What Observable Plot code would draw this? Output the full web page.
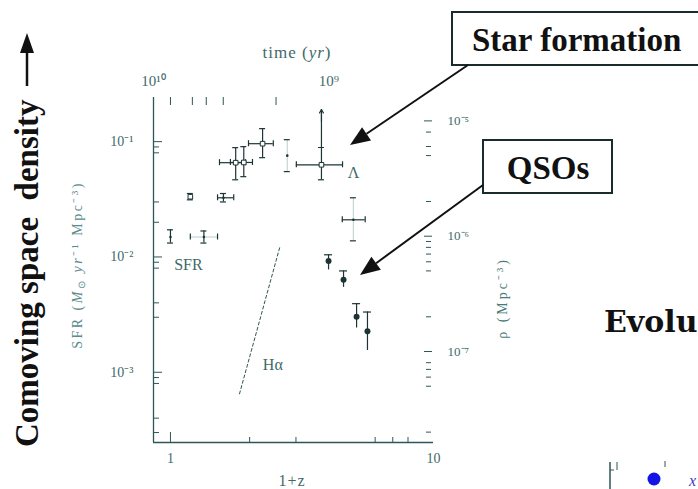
<!DOCTYPE html>
<html><head><meta charset="utf-8">
<script src="https://cdn.jsdelivr.net/npm/d3@7"></script>
<script src="https://cdn.jsdelivr.net/npm/@observablehq/plot@0.6"></script>
<style>body{margin:0;background:#fff}svg{display:block}</style>
</head><body><div id="chart"></div>
<script>
// ---- star-formation-rate points (x = 1+z, y = SFR in Msun/yr/Mpc^3)
const sfrZ      = [1.00, 1.19, 1.34, 1.59, 1.77, 1.90, 2.24, 3.75, 2.78, 4.96];
const sfrRate   = [0.0149, 0.0333, 0.0149, 0.0326, 0.0657, 0.066, 0.096, 0.063, 0.0756, 0.021];
const sfrLow    = [0.0132, 0.0313, 0.0132, 0.0300, 0.0467, 0.0497, 0.0726, 0.0467, 0.055, 0.0138];
const sfrHigh   = [0.0172, 0.0355, 0.0168, 0.0355, 0.0887, 0.0905, 0.1297, 0.19, 0.104, 0.0326];
const sfrZLow   = [null, null, 1.19, 1.51, 1.536, 1.69, 1.98, 3.01, null, 4.50];
const sfrZHigh  = [null, null, 1.51, 1.74, 1.93, 2.05, 2.46, 4.51, null, 5.50];
const sfrSquare = [false, true, false, false, true, true, true, true, false, false];
const sfrLimit  = [false, false, false, false, false, false, false, true, false, false];
const sfrVFaded = [false, false, false, false, false, false, false, false, true, true];
const sfrHFaded = [false, false, true, false, false, false, false, false, false, false];

// ---- QSO comoving space density (Mpc^-3, right axis)
const qsoZ       = [3.99, 4.55, 5.10, 5.61];
const qsoDensity = [6.1e-7, 4.2e-7, 2.0e-7, 1.5e-7];
const qsoLow     = [5.1e-7, 3.6e-7, 1.6e-7, 1.02e-7];
const qsoHigh    = [6.9e-7, 5.0e-7, 2.6e-7, 2.2e-7];

// ---- H-alpha dashed line
const haZ    = [1.83, 2.60];
const haRate = [0.00065, 0.012];

// ---- in-plot labels
const noteText = ["SFR", "Hα", "Λ"];
const noteZ    = [1.17, 2.45, 4.97];
const noteRate = [0.0086, 0.00116, 0.0538];

// ---- axes
const leftMajor   = [0.1, 0.01, 0.001];
const leftLabels  = ["10⁻¹", "10⁻²", "10⁻³"];
const leftMinor   = [0.09, 0.08, 0.03, 0.02, 0.009, 0.008, 0.004, 0.003, 0.0009, 0.0008, 0.0004, 0.0003];
const bottomMajor = [1, 10];
const bottomLabels = ["1", "10"];
const bottomMinor = [2, 3, 6, 7, 8];
const timeTicks   = [8e9, 6e9, 5e9, 4e9, 2e9];           // yr
const timeMajor   = [1e10, 1e9];
const timeLabels  = ["10¹⁰", "10⁹"];
const rightMajor  = [1e-5, 1e-6, 1e-7];                 // Mpc^-3
const rightLabels = ["10⁻⁵", "10⁻⁶", "10⁻⁷"];
const rightMinor  = [8e-6, 6e-6, 5e-6, 2e-6, 9e-7, 8e-7, 7e-7, 6e-7, 5e-7, 2e-7, 8e-8, 7e-8, 6e-8, 5e-8, 2e-8];

// scale helpers
const xMin = 0.862, xMax = 10, yMin = 0.000246, yMax = 0.2415;
const RIGHT = Math.pow(10, 4.18);                 // right-axis density -> left-axis units
const toZ = t => 4 * Math.pow(t / 1e9, -2 / 3);   // age (EdS) -> 1+z
const fx = p => Math.pow(10, p / 263);            // pixel offset factor along log x
const fy = p => Math.pow(10, p / 115.3);          // pixel offset factor along log y

const AX = "#2f5656", DAT = "#1d3434", LAB = "#3f6a6a", FADE = "#c4d6d6";
const sIdx = d3.range(sfrZ.length), qIdx = d3.range(qsoZ.length);

const chart = Plot.plot({
  width: 698, height: 489,
  marginLeft: 153, marginRight: 265, marginTop: 97, marginBottom: 47,
  x: {type: "log", domain: [xMin, xMax], axis: null},
  y: {type: "log", domain: [yMin, yMax], axis: null},
  style: {fontFamily: "Liberation Serif", fontSize: "13px", background: "white", overflow: "visible"},
  marks: [
    // axis lines
    Plot.ruleX([xMin], {stroke: AX, strokeWidth: 1.3}),
    Plot.ruleY([yMin], {stroke: AX, strokeWidth: 1.3}),
    // left ticks + labels
    Plot.ruleY(leftMajor, {y: d => d, x1: xMin, x2: xMin * fx(9), stroke: AX}),
    Plot.ruleY(leftMinor, {y: d => d, x1: xMin, x2: xMin * fx(6), stroke: AX}),
    Plot.text(leftMajor, {x: xMin, y: d => d, text: (d, i) => leftLabels[i], dx: -20, textAnchor: "end", fill: LAB, fontSize: 14}),
    // bottom ticks + labels
    Plot.ruleX(bottomMajor.slice(0, 1), {x: d => d, y1: yMin, y2: yMin * fy(10), stroke: AX}),
    Plot.ruleX(bottomMinor, {x: d => d, y1: yMin, y2: yMin * fy(5), stroke: AX}),
    Plot.text(bottomMajor, {x: d => d, y: yMin, text: (d, i) => bottomLabels[i], dy: 16, fill: LAB, fontSize: 14}),
    // top time ticks + labels
    Plot.ruleX(timeTicks, {x: toZ, y1: yMax, y2: yMax / fy(8), stroke: AX}),
    Plot.text(timeMajor, {x: toZ, y: yMax, text: (d, i) => timeLabels[i], dy: -16, fill: LAB, fontSize: 15}),
    // right axis ticks + labels
    Plot.ruleY(rightMajor, {y: d => d * RIGHT, x1: xMax / fx(9), x2: xMax / fx(1), stroke: AX}),
    Plot.ruleY(rightMinor, {y: d => d * RIGHT, x1: xMax / fx(7), x2: xMax / fx(2), stroke: AX}),
    Plot.text(rightMajor, {x: xMax, y: d => d * RIGHT, text: (d, i) => rightLabels[i], dx: 14, textAnchor: "start", fill: LAB, fontSize: 13}),

    // H-alpha dashed line
    Plot.line(d3.range(haZ.length), {x: i => haZ[i], y: i => haRate[i], stroke: AX, strokeDasharray: "3,2.5", strokeWidth: 1}),

    // SFR error bars
    Plot.ruleX(sIdx, {x: i => sfrZ[i], y1: i => sfrLow[i], y2: i => sfrHigh[i], stroke: i => sfrVFaded[i] ? FADE : DAT, strokeWidth: 1.2}),
    Plot.ruleY(sIdx.filter(i => sfrZLow[i] != null), {y: i => sfrRate[i], x1: i => sfrZLow[i], x2: i => sfrZHigh[i], stroke: i => sfrHFaded[i] ? FADE : DAT, strokeWidth: 1.2}),
    Plot.ruleY(sIdx, {y: i => sfrLow[i], x1: i => sfrZ[i] / fx(3), x2: i => sfrZ[i] * fx(3), stroke: DAT, strokeWidth: 1.2}),
    Plot.ruleY(sIdx.filter(i => !sfrLimit[i]), {y: i => sfrHigh[i], x1: i => sfrZ[i] / fx(3), x2: i => sfrZ[i] * fx(3), stroke: DAT, strokeWidth: 1.2}),
    Plot.ruleX(sIdx.filter(i => sfrZLow[i] != null), {x: i => sfrZLow[i], y1: i => sfrRate[i] / fy(3), y2: i => sfrRate[i] * fy(3), stroke: DAT, strokeWidth: 1.2}),
    Plot.ruleX(sIdx.filter(i => sfrZLow[i] != null), {x: i => sfrZHigh[i], y1: i => sfrRate[i] / fy(3), y2: i => sfrRate[i] * fy(3), stroke: DAT, strokeWidth: 1.2}),
    Plot.arrow(sIdx.filter(i => sfrLimit[i]), {x1: i => sfrZ[i], y1: i => sfrHigh[i] / fy(12), x2: i => sfrZ[i], y2: i => sfrHigh[i], stroke: DAT, headLength: 6, strokeWidth: 1.2}),
    Plot.ruleY(sIdx.filter(i => sfrLimit[i]), {y: i => sfrHigh[i] / fy(38), x1: i => sfrZ[i] / fx(3), x2: i => sfrZ[i] * fx(3), stroke: DAT}),
    Plot.dot(sIdx.filter(i => sfrSquare[i]), {x: i => sfrZ[i], y: i => sfrRate[i], symbol: "square", r: 2.6, fill: "white", stroke: DAT, strokeWidth: 1}),
    Plot.dot(sIdx.filter(i => !sfrSquare[i]), {x: i => sfrZ[i], y: i => sfrRate[i], r: 1.3, fill: DAT}),

    // QSO points
    Plot.ruleX(qIdx, {x: i => qsoZ[i], y1: i => qsoLow[i] * RIGHT, y2: i => qsoHigh[i] * RIGHT, stroke: DAT, strokeWidth: 1.2}),
    Plot.ruleY(qIdx, {y: i => qsoHigh[i] * RIGHT, x1: i => qsoZ[i] / fx(4), x2: i => qsoZ[i] * fx(4), stroke: DAT, strokeWidth: 1.2}),
    Plot.dot(qIdx, {x: i => qsoZ[i], y: i => qsoDensity[i] * RIGHT, r: 3, fill: DAT}),

    // in-plot labels
    Plot.text(d3.range(noteText.length), {x: i => noteZ[i], y: i => noteRate[i], text: i => noteText[i], fill: LAB, fontSize: 16})
  ]
});
document.getElementById("chart").append(chart);

// ---- slide annotations (overlay)
const svg = d3.select(chart);
const g = svg.append("g").attr("text-anchor", "start");
const serif = "Liberation Serif";

function arrow(x1, y1, x2, y2, len, half, w) {
  const dx = x2 - x1, dy = y2 - y1, L = Math.hypot(dx, dy), ux = dx / L, uy = dy / L;
  const bx = x2 - ux * len, by = y2 - uy * len;
  g.append("line").attr("x1", x1).attr("y1", y1).attr("x2", bx).attr("y2", by)
    .attr("stroke", "#111").attr("stroke-width", w);
  g.append("polygon").attr("fill", "#111")
    .attr("points", `${x2},${y2} ${bx - uy * half},${by + ux * half} ${bx + uy * half},${by - ux * half}`);
}

// big rotated left label with arrow
g.append("text").attr("transform", "translate(38,447) rotate(-90)").attr("text-anchor", "start")
  .attr("font-family", serif).attr("font-weight", "bold").attr("font-size", 33).attr("fill", "#111")
  .text("Comoving space  density");
arrow(27, 86, 27, 33, 20, 7, 2.5);

// axis titles
const sfrT = g.append("text").attr("transform", "translate(82,265) rotate(-90)")
  .attr("text-anchor", "middle").attr("font-family", serif).attr("font-size", 14)
  .attr("letter-spacing", 2.5).attr("fill", "#5a8c8c");
sfrT.append("tspan").text("SFR (");
sfrT.append("tspan").attr("font-style", "italic").text("M");
sfrT.append("tspan").attr("font-size", 10).attr("dy", 3).text("⊙");
sfrT.append("tspan").attr("dy", -3).attr("font-style", "italic").text(" yr");
sfrT.append("tspan").text("⁻¹ Mpc⁻³)");

g.append("text").attr("transform", "translate(507,298) rotate(-90)")
  .attr("text-anchor", "middle").attr("font-family", serif).attr("font-size", 14)
  .attr("letter-spacing", 3).attr("fill", "#4a7a7a")
  .text("ρ (Mpc⁻³)");

const tT = g.append("text").attr("x", 297).attr("y", 58).attr("text-anchor", "middle")
  .attr("font-family", serif).attr("font-size", 17).attr("letter-spacing", 1).attr("fill", LAB);
tT.append("tspan").text("time (");
tT.append("tspan").attr("font-style", "italic").text("yr");
tT.append("tspan").text(")");

g.append("text").attr("x", 292).attr("y", 486).attr("text-anchor", "middle")
  .attr("font-family", serif).attr("font-size", 16).attr("letter-spacing", 1).attr("fill", LAB).text("1+z");

// boxes
g.append("rect").attr("x", 452).attr("y", 12).attr("width", 270).attr("height", 53)
  .attr("fill", "white").attr("stroke", "#1a2b2b").attr("stroke-width", 2);
g.append("text").attr("x", 472).attr("y", 51).attr("text-anchor", "start").attr("font-family", serif).attr("font-weight", "bold")
  .attr("font-size", 33).attr("fill", "#111").text("Star formation");
arrow(468, 65, 350, 145, 20, 8, 2);

g.append("rect").attr("x", 483).attr("y", 140).attr("width", 129).attr("height", 53)
  .attr("fill", "white").attr("stroke", "#1a2b2b").attr("stroke-width", 2);
g.append("text").attr("x", 548).attr("y", 179).attr("text-anchor", "middle").attr("font-family", serif)
  .attr("font-weight", "bold").attr("font-size", 33).attr("fill", "#111").text("QSOs");
arrow(483, 185, 360, 275, 20, 8, 2);

// slide text cut by the picture edge (only the visible part)
g.append("text").attr("x", 604).attr("y", 332).attr("text-anchor", "start").attr("font-family", "DejaVu Serif").attr("font-weight", "bold")
  .attr("font-size", 30).attr("fill", "#111").text("Evolu");

// cut-off legend fragment
g.append("line").attr("x1", 610).attr("y1", 462).attr("x2", 610).attr("y2", 489).attr("stroke", AX).attr("stroke-width", 1.5);
g.append("line").attr("x1", 610).attr("y1", 470).attr("x2", 614).attr("y2", 470).attr("stroke", AX);
g.append("line").attr("x1", 617).attr("y1", 462).attr("x2", 617).attr("y2", 470).attr("stroke", AX);
g.append("line").attr("x1", 665).attr("y1", 461).attr("x2", 665).attr("y2", 467).attr("stroke", AX);
g.append("circle").attr("cx", 654).attr("cy", 479).attr("r", 6.5).attr("fill", "#1414e6");
g.append("text").attr("x", 689).attr("y", 486).attr("text-anchor", "start").attr("font-family", serif).attr("font-style", "italic")
  .attr("font-size", 16).attr("fill", "#3a3ad0").text("x");
</script></body></html>
